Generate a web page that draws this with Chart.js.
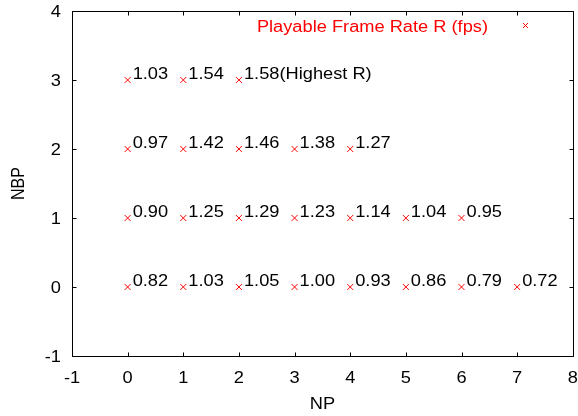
<!DOCTYPE html>
<html>
<head>
<meta charset="utf-8">
<script src="https://cdn.jsdelivr.net/npm/chart.js@4.4.1/dist/chart.umd.min.js"></script>
<style>
  html, body { margin: 0; padding: 0; background: #fff; }
  #wrap { width: 578px; height: 416px; }
</style>
</head>
<body>
<div id="wrap"><canvas id="c" width="578" height="416"></canvas></div>
<script>
// Playable frame rate R (fps) for each NP / NBP combination
const npValues = [0, 1, 2, 3, 4, 5, 6, 7];
const rateNBP0 = [0.82, 1.03, 1.05, 1.00, 0.93, 0.86, 0.79, 0.72];
const rateNBP1 = [0.90, 1.25, 1.29, 1.23, 1.14, 1.04, 0.95];
const rateNBP2 = [0.97, 1.42, 1.46, 1.38, 1.27];
const rateNBP3 = [1.03, 1.54, 1.58];
const highestNote = '(Highest R)';

const xTicks = [-1, 0, 1, 2, 3, 4, 5, 6, 7, 8];
const yTicks = [-1, 0, 1, 2, 3, 4];
const seriesLabel = 'Playable Frame Rate R (fps)';
const xTitle = 'NP';
const yTitle = 'NBP';

const FONT = '16px "Liberation Sans", Arial, sans-serif';
const STRETCH = 1.14;   // slightly wide lettering
const RED = '#ff0000';

// one scatter point per measured value, tagged with its rate
const rows = [rateNBP0, rateNBP1, rateNBP2, rateNBP3];
const points = [];
rows.forEach((row, nbp) => {
  row.forEach((r, i) => points.push({ x: npValues[i], y: nbp, r: r }));
});
// the best rate gets an extra note
let best = points[0];
points.forEach(p => { if (p.r > best.r) best = p; });

// text helper: horizontally stretched, anchored at (x, baseline y)
function text(ctx, s, x, y, align, color) {
  ctx.save();
  ctx.font = FONT;
  ctx.fillStyle = color || '#000';
  ctx.textAlign = align;
  ctx.textBaseline = 'alphabetic';
  ctx.translate(x, y);
  ctx.scale(STRETCH, 1);
  ctx.fillText(s, 0, 0);
  ctx.restore();
}

const framePlugin = {
  id: 'frame',
  afterDatasetsDraw(chart) {
    const { ctx, chartArea: a, scales: { x, y } } = chart;
    ctx.save();

    // value labels next to each marker
    const meta = chart.getDatasetMeta(0);
    meta.data.forEach((el, i) => {
      const p = points[i];
      let s = p.r.toFixed(2);
      if (p === best) s += highestNote;
      text(ctx, s, el.x + 5, el.y - 1, 'left');
    });

    // frame with inward ticks on all four sides
    ctx.strokeStyle = '#000';
    ctx.lineWidth = 1;
    ctx.beginPath();
    const L = Math.round(a.left) + 0.5, T = Math.round(a.top) + 0.5;
    const R = Math.round(a.right) + 0.5, B = Math.round(a.bottom) + 0.5;
    ctx.rect(L, T, R - L, B - T);
    const tl = 4;
    xTicks.forEach(v => {
      const px = Math.round(x.getPixelForValue(v)) + 0.5;
      ctx.moveTo(px, B); ctx.lineTo(px, B - tl);
      ctx.moveTo(px, T); ctx.lineTo(px, T + tl);
    });
    yTicks.forEach(v => {
      const py = Math.round(y.getPixelForValue(v)) + 0.5;
      ctx.moveTo(L, py); ctx.lineTo(L + tl, py);
      ctx.moveTo(R, py); ctx.lineTo(R - tl, py);
    });
    ctx.stroke();

    // tick labels
    xTicks.forEach(v => text(ctx, String(v), x.getPixelForValue(v), B + 26, 'center'));
    yTicks.forEach(v => text(ctx, String(v), a.left - 11, y.getPixelForValue(v) + 6, 'right'));

    // key in the top right corner
    text(ctx, seriesLabel, 488, 31.5, 'right', RED);
    ctx.strokeStyle = RED;
    ctx.beginPath();
    const kx = 525.5, ky = 25.5, d = 2.5;
    ctx.moveTo(kx - d, ky - d); ctx.lineTo(kx + d, ky + d);
    ctx.moveTo(kx - d, ky + d); ctx.lineTo(kx + d, ky - d);
    ctx.stroke();

    // axis titles
    text(ctx, xTitle, (a.left + a.right) / 2, 409, 'center');
    ctx.save();
    ctx.translate(24, (a.top + a.bottom) / 2);
    ctx.rotate(-Math.PI / 2);
    ctx.font = FONT;
    ctx.fillStyle = '#000';
    ctx.textAlign = 'center';
    ctx.textBaseline = 'alphabetic';
    ctx.scale(1, STRETCH);
    ctx.fillText(yTitle, 0, 0);
    ctx.restore();

    ctx.restore();
  }
};

new Chart(document.getElementById('c'), {
  type: 'scatter',
  data: {
    datasets: [{
      label: seriesLabel,
      data: points,
      pointStyle: 'crossRot',
      radius: 4.2,
      hoverRadius: 4.2,
      borderColor: RED,
      backgroundColor: RED,
      borderWidth: 1
    }]
  },
  options: {
    responsive: false,
    animation: false,
    events: [],
    layout: { padding: { top: 11, right: 5, left: 0, bottom: 0 } },
    plugins: { legend: { display: false }, tooltip: { enabled: false } },
    scales: {
      x: {
        type: 'linear', min: -1, max: 8,
        afterBuildTicks: s => { s.ticks = xTicks.map(v => ({ value: v })); },
        afterFit: s => { s.height = 60; s.paddingLeft = 0; s.paddingRight = 0; },
        grid: { display: false, drawTicks: false },
        border: { display: false },
        ticks: { display: false }
      },
      y: {
        type: 'linear', min: -1, max: 4,
        afterBuildTicks: s => { s.ticks = yTicks.map(v => ({ value: v })); },
        afterFit: s => { s.width = 72; s.paddingTop = 0; s.paddingBottom = 0; },
        grid: { display: false, drawTicks: false },
        border: { display: false },
        ticks: { display: false }
      }
    }
  },
  plugins: [framePlugin]
});
</script>
</body>
</html>
